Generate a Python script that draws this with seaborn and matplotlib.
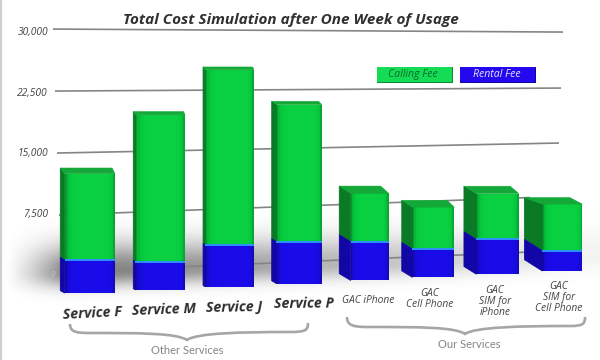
import numpy as np
import pandas as pd
import matplotlib
matplotlib.use('Agg')
import matplotlib.pyplot as plt
import matplotlib.transforms as mtrans
import seaborn as sns
from matplotlib.patches import Polygon, PathPatch, Rectangle
from matplotlib.path import Path

services = ['Service F', 'Service M', 'Service J', 'Service P', 'GAC iPhone',
            'GAC\nCell Phone', 'GAC\nSIM for\niPhone', 'GAC\nSIM for\nCell Phone']
calling_fee = [10700, 18200, 21700, 17000, 6000, 5200, 5700, 5800]
rental_fee = [4100, 3500, 5200, 5200, 4800, 3500, 4300, 2500]
y_ticks = [0, 7500, 15000, 22500, 30000]
y_tick_labels = ['0', '7,500', '15,000', '22,500', '30,000']

df = pd.DataFrame({'service': services, 'calling': calling_fee, 'rental': rental_fee})
df['total'] = df['calling'] + df['rental']

# perspective look: floor climbs to the right, gridlines fan out
floor = -390 * (7 - np.arange(8))
side_out = [0.03, 0.0, 0.0, 0.0, 0.0, 0.06, 0.11, 0.17]
side_in = [0.03, 0.03, 0.03, 0.07, 0.17, 0.10, 0.08, 0.11]
top_rise = [700, 400, 350, 400, 900, 850, 900, 800]
grid_left = [-124, -558, -372, -186, 0]
grid_right = [2356, 1612, 868, 186, -372]
grid_ends = [(60, 530), (59, 530), (57, 559), (55, 561), (53, 563)]
label_gap = [13.5, 13.5, 13.5, 13.5, 15, 11, 11, 10]
label_shift = [0.05, 0.06, 0.08, 0.1, 0.06, 0.0, 0.0, 0.0]
big_rot = [3, 2, 1, 0.5]

px_per_value = 124.0


def forward(x):
    x = np.asarray(x)
    return 88.8 + 71 * x - 0.55 * x ** 2


def inverse(p):
    p = np.asarray(p)
    return (71 - np.sqrt(np.maximum(71 ** 2 - 2.2 * (p - 88.8), 0))) / 1.1


sns.set_style('white')
plt.rcParams['font.family'] = ['Open Sans', 'DejaVu Sans']

fig = plt.figure(figsize=(6, 3.6), dpi=100)

# background layer in pixel units: shadow, border, legend, braces
bg = fig.add_axes([0, 0, 1, 1], zorder=0)
xx, yy = np.meshgrid(np.arange(600), np.arange(360))
centre = 272 - 0.03 * (xx - 50)
band = np.where(yy < centre, np.exp(-((yy - centre) / 27.0) ** 2), np.exp(-((yy - centre) / 15.0) ** 2))
fade = np.clip((xx - 4) / 60.0, 0, 1) ** 1.3 * np.clip(1.0 - (xx - 120) / 520.0, 0.1, 1)
shade = 1 - 0.48 * band * fade
bg.imshow(shade, cmap='gray', vmin=0, vmax=1, extent=(0, 600, 360, 0), aspect='auto', zorder=0)
bg.set_xlim(0, 600)
bg.set_ylim(360, 0)
bg.axis('off')
bg.axvline(0.8, color='#cfcfcf', lw=1.6, zorder=1)

bg.add_patch(Rectangle((377, 67), 76, 16, color='#0c8a35', lw=0, zorder=2))
bg.add_patch(Rectangle((377, 67), 75, 15, color='#14dc55', lw=0, zorder=3))
bg.add_patch(Rectangle((460, 67), 76, 16, color='#10089c', lw=0, zorder=2))
bg.add_patch(Rectangle((460, 67), 75, 15, color='#2408f0', lw=0, zorder=3))
bg.text(413, 74.5, 'Calling Fee', ha='center', va='center', style='italic', fontsize=7.6,
        color='#0b6a2c', zorder=4)
bg.text(497, 74.5, 'Rental Fee', ha='center', va='center', style='italic', fontsize=7.6,
        color='#e8e8ff', zorder=4)

C = Path.CURVE4
M = Path.MOVETO
brace_left = Path([(70, 324), (70, 332), (76, 333), (90, 333), (140, 333), (176, 333), (187, 340),
                   (197, 333), (240, 332), (290, 332), (306, 332), (308, 330), (308, 323)],
                  [M, C, C, C, C, C, C, C, C, C, C, C, C])
brace_right = Path([(347, 317), (347, 325), (352, 327), (368, 327), (420, 327), (455, 327), (465, 334),
                    (475, 327), (520, 326), (570, 326), (583, 326), (585, 324), (585, 317)],
                   [M, C, C, C, C, C, C, C, C, C, C, C, C])
for brace in (brace_left, brace_right):
    bg.add_patch(PathPatch(brace, fc='none', ec='#a6a6a6', lw=1.9, capstyle='butt', zorder=2))
bg.text(187, 350, 'Other Services', ha='center', va='center', fontsize=8, color='#858585',
        family=['Lato', 'DejaVu Sans'])
bg.text(469, 344, 'Our Services', ha='center', va='center', fontsize=8, color='#858585',
        family=['Lato', 'DejaVu Sans'])
bg.text(291, 20, 'Total Cost Simulation after One Week of Usage', ha='center', va='center',
        fontsize=11, style='italic', weight='bold', color='#303030')

# main chart
ax = fig.add_axes([50 / 600, 0, 550 / 600, 1], zorder=1)
ax.patch.set_alpha(0)
sns.barplot(data=df, x='service', y='total', color='#08d040', saturation=1, width=0.74,
            bottom=floor, linewidth=0, ax=ax, zorder=2)
sns.barplot(data=df, x='service', y='rental', color='#1a0ce8', saturation=1, width=0.74,
            bottom=floor, linewidth=0, ax=ax, zorder=2)
ax.set_xscale('function', functions=(forward, inverse))
ax.set_xlim(float(inverse(50)), float(inverse(600)))
ax.set_ylim(-(360 - 271) * px_per_value, 271 * px_per_value)

for v, gl, gr, ends in zip(y_ticks, grid_left, grid_right, grid_ends):
    ax.plot(inverse(ends), [v + gl, v + gr], color='#858585', lw=1.2, zorder=1, solid_capstyle='butt')

bars = list(ax.patches)
green_bars = bars[:8]
blue_bars = bars[8:16]
u = (np.arange(24) + 0.5) / 24
alpha = 0.38 * np.exp(-u / 0.05) + 0.34 * np.exp(-(1 - u) / 0.035)
rgba = np.zeros((1, 24, 4))
rgba[0, :, 3] = alpha
for i in range(8):
    g = green_bars[i]
    b = blue_bars[i]
    x0, w = g.get_x(), g.get_width()
    d, e, r = side_out[i], side_in[i], top_rise[i]
    bot = g.get_y()
    top = bot + g.get_height()
    mid = bot + b.get_height()
    side_r = (d + e) * 5000
    # the left part of each bar turns into its side face
    g.set_x(x0 + e)
    g.set_width(w - e)
    b.set_x(x0 + e)
    b.set_width(w - e)
    xf = x0 + e
    ax.add_patch(Polygon([(xf, mid), (x0 - d, mid + side_r), (x0 - d, top + r), (xf, top)],
                         fc='#0a7a26', ec='#0a7a26', lw=0.6, zorder=3))
    ax.add_patch(Polygon([(xf, bot), (x0 - d, bot + side_r), (x0 - d, mid + side_r), (xf, mid)],
                         fc='#1206a6', ec='#1206a6', lw=0.6, zorder=3))
    ax.add_patch(Polygon([(xf, top), (x0 - d, top + r), (x0 + w - 0.7 * (d + e), top + r), (x0 + w, top)],
                         fc='#13a838', ec='#13a838', lw=0.4, zorder=3))
    ax.pcolormesh(np.linspace(xf, x0 + w, 25), [bot, top], rgba, zorder=2.5, antialiased=False)
    ax.plot([xf, x0 + w], [mid, mid], color='#2c90ff', lw=1.4, zorder=3, solid_capstyle='butt')

# category labels sit under each bar, following the floor
for i, name in enumerate(services):
    y = floor[i] - label_gap[i] * px_per_value
    if i < 4:
        ax.text(i + label_shift[i], y, name, ha='center', va='top', fontsize=10.3, style='italic',
                weight='bold', color='#2e2e2e', rotation=big_rot[i], rotation_mode='anchor')
    else:
        ax.text(i + label_shift[i], y, name, ha='center', va='top', fontsize=7.4, style='italic',
                color='#444444', linespacing=1.0)

ax.set_xticks([])
ax.set_xlabel('')
ax.set_ylabel('')
ax.set_yticks(y_ticks)
ax.set_yticklabels(y_tick_labels, style='italic', fontsize=7.4, color='#444444')
ax.tick_params(axis='y', length=0, pad=1.5)
down = mtrans.ScaledTranslation(0, -2 / 100, fig.dpi_scale_trans)
for lab in ax.get_yticklabels():
    lab.set_transform(lab.get_transform() + down)
zero = ax.get_yticklabels()[0]
zero.set_color('#c8c8c8')
zero.set_fontsize(6)
zero.set_transform(zero.get_transform() + mtrans.ScaledTranslation(7 / 100, 0, fig.dpi_scale_trans))
sns.despine(ax=ax, left=True, bottom=True)

fig.savefig('out.png', dpi=100)
